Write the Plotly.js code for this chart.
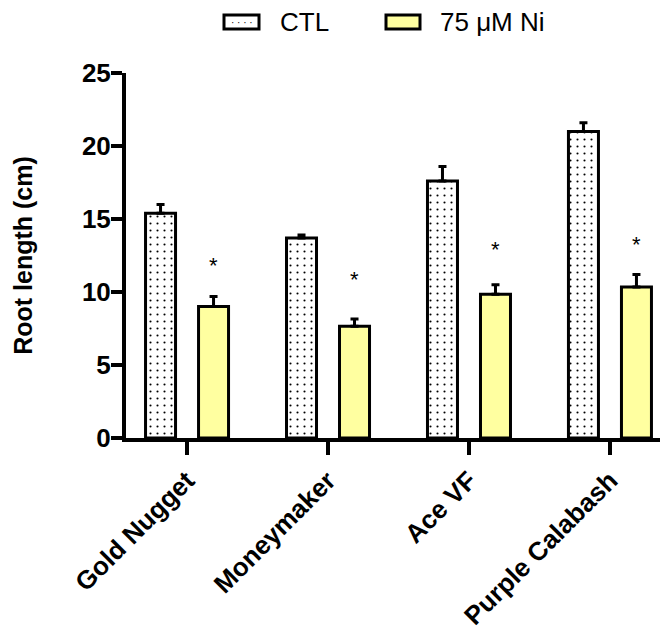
<!DOCTYPE html>
<html>
<head>
<meta charset="utf-8">
<script src="https://cdn.plot.ly/plotly-3.0.1.min.js"></script>
<style>html,body{margin:0;padding:0;background:#fff;}#chart{width:663px;height:630px;}</style>
</head>
<body>
<div id="chart"></div>
<script>
// ---- data ----
const categories = ["Gold Nugget", "Moneymaker", "Ace VF", "Purple Calabash"];
const seriesNames = ["CTL", "75 μM Ni"];
const ctlValues = [15.4, 13.7, 17.6, 21.0];
const ctlErrors = [0.6, 0.2, 1.0, 0.6];
const niValues = [9.0, 7.65, 9.85, 10.35];
const niErrors = [0.7, 0.5, 0.65, 0.85];
const starLabels = ["*", "*", "*", "*"];
const starHeights = [12.1, 11.1, 13.2, 13.5];
const yTickValues = [0, 5, 10, 15, 20, 25];

// ---- layout geometry ----
const W = 663, H = 630;
const M = {l: 126, r: 3, t: 73, b: 192};
const PW = W - M.l - M.r, PH = H - M.t - M.b;
const px = x => (x - M.l) / PW;
const py = y => (H - M.b - y) / PH;
const FONT = '"Liberation Sans", Arial, sans-serif';

const ctlTrace = {
  type: 'bar', name: seriesNames[0], x: categories, y: ctlValues,
  marker: {color: '#ffffff', line: {color: '#000', width: 3},
           pattern: {shape: '.', fgcolor: '#000', bgcolor: '#ffffff', size: 7, solidity: 0.07}},
  error_y: {type: 'data', symmetric: false, array: ctlErrors, arrayminus: ctlErrors.map(() => 0),
            color: '#000', thickness: 3, width: 4},
  showlegend: false
};
const niTrace = {
  type: 'bar', name: seriesNames[1], x: categories, y: niValues,
  marker: {color: '#ffffa0', line: {color: '#000', width: 3}},
  error_y: {type: 'data', symmetric: false, array: niErrors, arrayminus: niErrors.map(() => 0),
            color: '#000', thickness: 3, width: 4},
  showlegend: false
};

const annotations = categories.map((c, i) => ({
  xref: 'x', yref: 'y', x: i + 0.188, y: starHeights[i], text: starLabels[i],
  showarrow: false, font: {family: FONT, size: 22, color: '#000'}, yanchor: 'middle', yshift: -4
}));
// custom legend text
annotations.push({xref: 'paper', yref: 'paper', x: px(278), y: py(22), text: seriesNames[0],
  showarrow: false, xanchor: 'left', yanchor: 'middle', font: {family: FONT, size: 26, color: '#000'}});
annotations.push({xref: 'paper', yref: 'paper', x: px(438), y: py(22), text: seriesNames[1],
  showarrow: false, xanchor: 'left', yanchor: 'middle', font: {family: FONT, size: 26, color: '#000'}});
// dots inside CTL legend box
annotations.push({xref: 'paper', yref: 'paper', x: px(241.5), y: py(22), text: '· · · ·',
  showarrow: false, xanchor: 'center', yanchor: 'middle', font: {family: FONT, size: 10, color: '#000'}});

const shapes = [
  {type: 'rect', xref: 'paper', yref: 'paper', x0: px(224), x1: px(259), y0: py(29), y1: py(15),
   fillcolor: '#ffffff', line: {color: '#000', width: 3}},
  {type: 'rect', xref: 'paper', yref: 'paper', x0: px(386), x1: px(420), y0: py(29), y1: py(15),
   fillcolor: '#ffffa0', line: {color: '#000', width: 3}}
];

const layout = {
  width: W, height: H, margin: M,
  paper_bgcolor: '#fff', plot_bgcolor: '#fff',
  barmode: 'group', bargap: 0.248, bargroupgap: 0.434,
  font: {family: FONT, color: '#000'},
  showlegend: false,
  xaxis: {
    type: 'category', range: [-0.433, 3.355], showgrid: false, zeroline: false,
    showline: true, linecolor: '#000', linewidth: 4,
    ticks: 'outside', ticklen: 13, tickwidth: 4, tickcolor: '#000',
    tickangle: -45, tickfont: {family: FONT, size: 26, color: '#000', weight: 'bold'},
    fixedrange: true
  },
  yaxis: {
    range: [0, 25], tickvals: yTickValues, showgrid: false, zeroline: false,
    showline: true, linecolor: '#000', linewidth: 4,
    ticks: 'outside', ticklen: 11, tickwidth: 4, tickcolor: '#000',
    ticklabelstandoff: -5,
    tickfont: {family: FONT, size: 26, color: '#000', weight: 'bold'},
    title: {text: 'Root length (cm)', font: {family: FONT, size: 25, color: '#000', weight: 'bold'}, standoff: 43},
    fixedrange: true
  },
  annotations: annotations,
  shapes: shapes
};

Plotly.newPlot('chart', [ctlTrace, niTrace], layout, {displayModeBar: false, staticPlot: true});
</script>
</body>
</html>
